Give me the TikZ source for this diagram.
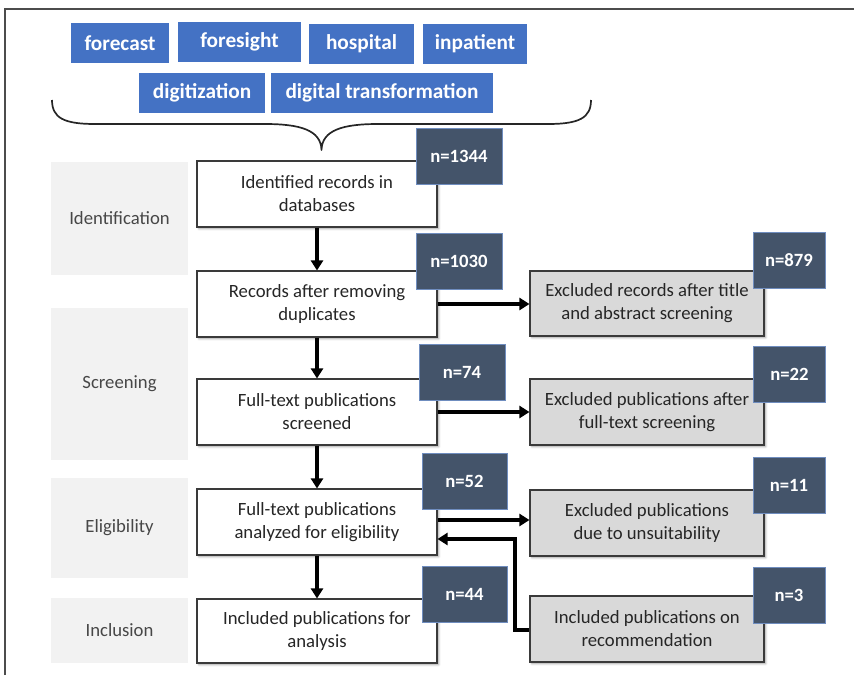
\documentclass[tikz,border=0pt]{standalone}
\usepackage{fontspec}
\setmainfont{Carlito}
\usetikzlibrary{arrows.meta,shadows.blur}

\definecolor{kwblue}{HTML}{4472C4}
\definecolor{badge}{HTML}{44546A}
\definecolor{badgeline}{HTML}{6F8DBF}
\definecolor{phase}{HTML}{F2F2F2}
\definecolor{excl}{HTML}{D9D9D9}
\definecolor{ink}{HTML}{262626}
\definecolor{edge}{HTML}{3A3A3A}

\tikzset{
  keyword/.style={rectangle, fill=kwblue, text=white, font=\fontsize{21.3}{24}\selectfont\bfseries,
    inner sep=0pt, minimum height=40pt},
  phasebox/.style={rectangle, fill=phase, text=ink!85, font=\fontsize{18.7}{23}\selectfont,
    inner sep=0pt, minimum width=137pt},
  stagebox/.style={rectangle, draw=edge, line width=1.1pt, fill=white, text=ink,
    font=\fontsize{18.7}{23}\selectfont, align=center, inner sep=0pt,
    minimum width=240pt, minimum height=66pt,
    blur shadow={shadow xshift=1.8pt, shadow yshift=-1.8pt, shadow blur radius=2pt, shadow opacity=35}},
  sidebox/.style={stagebox, fill=excl, minimum width=234pt},
  countbox/.style={rectangle, fill=badge, draw=badgeline, line width=0.8pt, text=white,
    font=\fontsize{18.7}{22}\selectfont\bfseries, inner sep=0pt, minimum height=56pt},
  flow/.style={draw=black, line width=3.4pt, -{Triangle[width=12pt,length=10pt]}},
}

\begin{document}
\begin{tikzpicture}[x=1pt, y=-1pt]
\useasboundingbox (0,0) rectangle (854,675);

% outer frame, open towards the right and bottom
\draw[line width=1.4pt, color=gray!60!black] (5,675) -- (5,9) -- (854,9);

% search terms
\node[keyword, minimum width=98pt]  (kw1) at (120,43)   {forecast};
\node[keyword, minimum width=123pt] (kw2) at (239.5,42) {foresight};
\node[keyword, minimum width=105pt] (kw3) at (361.5,44) {hospital};
\node[keyword, minimum width=104pt] (kw4) at (475,44)   {inpatient};
\node[keyword, minimum width=126pt] (kw5) at (202,93)   {digitization};
\node[keyword, minimum width=222pt] (kw6) at (382,93)   {digital transformation};

% curly brace gathering the search terms
\draw[line width=1.7pt, color=ink, line join=round]
  (52,100) .. controls (52,118) and (64,124) .. (95,124) -- (265,124)
  .. controls (300,124) and (321,130) .. (321.5,150)
  .. controls (322,130) and (343,124) .. (378,124) -- (548,124)
  .. controls (579,124) and (591,118) .. (591,100);

% phase labels
\node[phasebox, minimum height=113pt] (ph1) at (119.5,218.5) {Identification};
\node[phasebox, minimum height=152pt] (ph2) at (119.5,384)   {Screening};
\node[phasebox, minimum height=100pt] (ph3) at (119.5,528)   {Eligibility};
\node[phasebox, minimum height=65pt]  (ph4) at (119.5,630.5) {Inclusion};

% main stages
\node[stagebox] (s1) at (317,194) {Identified records in\\databases};
\node[stagebox] (s2) at (317,304) {Records after removing\\duplicates};
\node[stagebox] (s3) at (317,412) {Full-text publications\\screened};
\node[stagebox] (s4) at (317,522) {Full-text publications\\analyzed for eligibility};
\node[stagebox, minimum height=64pt] (s5) at (317,631) {Included publications for\\analysis};

% side stages
\node[sidebox, minimum height=65pt] (e1) at (647,303.5) {Excluded records after title\\and abstract screening};
\node[sidebox] (e2) at (647,412) {Excluded publications after\\full-text screening};
\node[sidebox] (e3) at (647,523) {Excluded publications\\due to unsuitability};
\node[sidebox] (e4) at (647,629) {Included publications on\\recommendation};

% connectors
\draw[flow] (s1) -- (s2);
\draw[flow] (s2) -- (s3);
\draw[flow] (s3) -- (s4);
\draw[flow] (s4) -- (s5);
\draw[flow] (s2.east) -- (s2.east -| e1.west);
\draw[flow] (s3.east) -- (s3.east -| e2.west);
\draw[flow] ([yshift=2pt]s4.east) -- ([yshift=2pt]s4.east -| e3.west);
\coordinate (bend) at (515,630);
\draw[flow, line join=miter] (e4.west |- bend) -- (bend) -- (515,539) -- (s4.east |- 0,539);

% counts
\node[countbox, minimum width=86pt] (n1) at (459,156)   {n=1344};
\node[countbox, minimum width=86pt] (n2) at (459,261)   {n=1030};
\node[countbox, minimum width=86pt] (n3) at (462,372)   {n=74};
\node[countbox, minimum width=85pt] (n4) at (464.5,481.5) {n=52};
\node[countbox, minimum width=85pt] (n5) at (464.5,594) {n=44};
\node[countbox, minimum width=72pt] (n6) at (789,260.5) {n=879};
\node[countbox, minimum width=72pt] (n7) at (789.5,374.5) {n=22};
\node[countbox, minimum width=72pt] (n8) at (789,485)   {n=11};
\node[countbox, minimum width=72pt] (n9) at (789,595)   {n=3};
\end{tikzpicture}
\end{document}
